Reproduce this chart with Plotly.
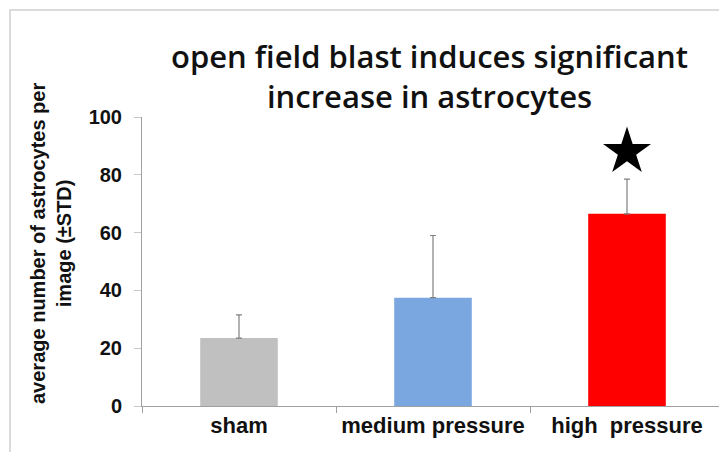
import plotly.graph_objects as go

categories = ["sham", "medium pressure", "high\u00a0 pressure"]
means = [23.5, 37.5, 66.5]
std_up = [8.0, 21.5, 12.0]
bar_colors = ["#c0c0c0", "#7ba7e0", "#ff0000"]
star_category = ["high\u00a0 pressure"]
star_value = [88]
y_ticks = [0, 20, 40, 60, 80, 100]
title_lines = ["open field blast induces significant", "increase in astrocytes"]
ytitle_lines = ["average number of astrocytes per", "image (±STD)"]

OFF = 8  # page body offset
W, H = 727 - OFF, 452 - OFF
px_left, px_right, px_top, px_bottom = 142 - OFF, 724 - OFF, 117 - OFF, 406 - OFF
L, R, T, B = px_left, W - px_right, px_top, H - px_bottom
PW, PH = W - L - R, H - T - B


def fx(sx):
    return (sx - OFF - L) / PW


def fy(sy):
    return (H - B - (sy - OFF)) / PH


fig = go.Figure()
fig.add_trace(go.Bar(
    x=categories, y=means, width=0.4,
    marker=dict(color=bar_colors, line=dict(width=0)),
    error_y=dict(type="data", array=std_up, arrayminus=[0] * len(std_up),
                 symmetric=False, color="#808080", thickness=1.2, width=3),
    showlegend=False,
))
fig.add_trace(go.Scatter(
    x=star_category, y=star_value, mode="markers",
    marker=dict(symbol="star", size=36, color="black"),
    showlegend=False, cliponaxis=False,
))

annotations = [dict(
    text="<br>".join(title_lines), xref="paper", yref="paper", x=fx(429), y=fy(76),
    xanchor="center", yanchor="middle", showarrow=False, align="center",
    font=dict(family="Open Sans", size=31, color="#111111", weight=600),
)]
annotations.append(dict(
    text="<br>".join(ytitle_lines), xref="paper", yref="paper", x=fx(51), y=fy(244),
    xanchor="center", yanchor="middle", textangle=-90, showarrow=False, align="center",
    font=dict(family="Liberation Sans", size=20, color="#111111", weight="bold"),
))

fig.update_layout(
    width=W, height=H,
    margin=dict(l=L, r=R, t=T, b=B, autoexpand=False),
    paper_bgcolor="white", plot_bgcolor="white",
    xaxis=dict(
        showline=True, linecolor="#a0a0a0", linewidth=1,
        ticks="outside", tickson="boundaries", ticklen=6, tickcolor="#a0a0a0",
        tickfont=dict(family="Liberation Sans", size=22, color="#111111", weight="bold"),
        showgrid=False,
    ),
    yaxis=dict(
        range=[0, 100], tickvals=y_ticks,
        showline=True, linecolor="#a0a0a0", linewidth=1,
        ticks="outside", ticklen=7, tickcolor="#c8c8c8",
        ticklabelstandoff=8,
        tickfont=dict(family="Liberation Sans", size=20, color="#111111", weight="bold"),
        showgrid=False, zeroline=False,
    ),
    annotations=annotations,
    shapes=[dict(
        type="rect", xref="paper", yref="paper",
        x0=fx(10), x1=fx(740), y0=fy(470), y1=fy(10),
        line=dict(color="#d0d0d0", width=1.5), layer="below",
    )],
)

fig.write_html("out.html")
